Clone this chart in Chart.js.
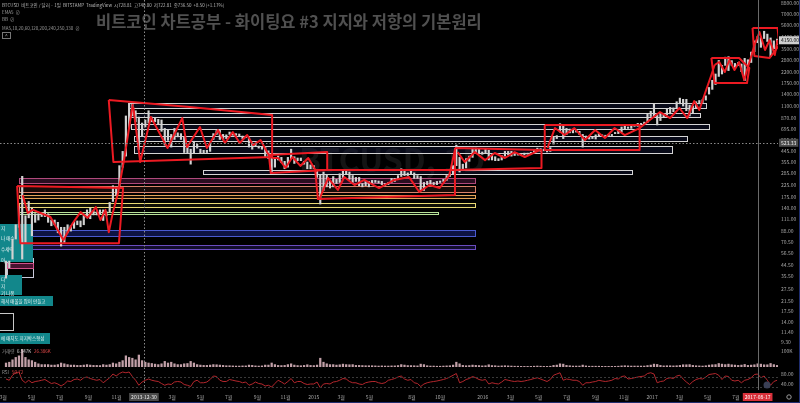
<!DOCTYPE html>
<html>
<head>
<meta charset="utf-8">
<title>비트코인 차트공부 #3</title>
<script src="https://cdn.jsdelivr.net/npm/chart.js@4.4.1/dist/chart.umd.min.js"></script>
<style>
  html, body { margin: 0; padding: 0; background: #000; }
  canvas { display: block; }
</style>
</head>
<body>
<canvas id="chart" width="800" height="403"></canvas>
<script>
// ---------- data (weekly, BITSTAMP BTCUSD) ----------
const weekStart = '2013-03-04';

const weeklyHigh = [
  48, 48, 75, 100, 145, 266, 120, 160, 140, 125, 125, 128, 135, 125, 110, 110, 105, 95, 95, 100, 98, 107,
  108, 108, 124, 135, 140, 133, 130, 135, 135, 130, 157, 220, 215, 330, 440, 900, 1163, 1150, 1000, 880, 780, 830,
  1000, 880, 870, 840, 830, 700, 680, 620, 700, 640, 630, 590, 490, 460, 540, 510, 460, 450, 450, 530, 630, 670,
  680, 620, 615, 650, 640, 630, 625, 600, 600, 580, 520, 520, 490, 485, 480, 445, 390, 380, 400, 390, 360, 390,
  460, 395, 385, 385, 360, 355, 335, 330,
  300, 275, 290, 275, 245, 265, 250, 280, 300, 300, 290, 270, 260, 260, 230, 240, 240, 245, 245, 242, 240, 230,
  235, 255, 255, 270, 310, 295, 285, 298, 285, 270, 265, 235, 240, 245, 235, 240, 242, 250, 270, 285, 330, 500,
  390, 340, 380, 400, 470, 470, 460, 435,
  460, 450, 420, 395, 380, 405, 440, 440, 440, 420, 420, 420, 425, 425, 432, 450, 470, 465, 460, 455, 475, 585,
  605, 770, 760, 700, 690, 680, 680, 660, 620, 600, 590, 585, 615, 630, 615, 610, 620, 620, 645, 660, 720, 740,
  720, 750, 750, 775, 775, 795, 930, 990,
  1140, 910, 930, 925, 1030, 1070, 1060, 1200, 1290, 1260, 1260, 1120, 1100, 1200, 1230, 1250, 1350, 1600, 1850,
  2100, 2760, 2500, 2950, 2980, 2750, 2600, 2650, 2570, 2880, 2800, 3270, 4100, 4480, 4380, 4980, 4700, 4350,
  4100, 4250
];

const weeklyLow = [
  34, 42, 50, 75, 95, 50, 70, 115, 80, 105, 110, 118, 118, 105, 98, 100, 85, 65, 70, 85, 88, 93,
  100, 96, 100, 115, 113, 122, 122, 124, 109, 120, 130, 160, 180, 210, 320, 400, 700, 900, 800, 455, 600, 720,
  780, 800, 800, 770, 660, 500, 550, 480, 560, 590, 560, 430, 420, 340, 420, 470, 420, 420, 430, 440, 560, 620,
  560, 560, 570, 620, 610, 610, 600, 570, 580, 480, 460, 490, 470, 460, 390, 380, 290, 320, 370, 350, 310, 320,
  380, 345, 365, 365, 340, 310, 310, 310,
  260, 152, 200, 215, 210, 215, 230, 235, 260, 280, 250, 235, 240, 220, 215, 220, 215, 230, 235, 232, 225, 220,
  225, 235, 240, 250, 265, 270, 270, 280, 255, 255, 200, 200, 225, 225, 225, 225, 235, 240, 245, 265, 280, 330,
  290, 310, 315, 360, 390, 430, 420, 415,
  420, 370, 370, 365, 365, 370, 400, 410, 400, 405, 408, 410, 410, 415, 420, 425, 440, 440, 445, 435, 440, 510,
  570, 650, 570, 620, 640, 640, 650, 620, 480, 580, 565, 570, 565, 600, 600, 590, 600, 605, 630, 630, 650, 690,
  700, 700, 730, 730, 760, 770, 790, 890,
  880, 750, 820, 880, 920, 940, 980, 1050, 1150, 1100, 1000, 900, 960, 1060, 1150, 1180, 1240, 1400, 1540,
  1700, 2000, 2100, 2500, 2250, 2500, 2400, 2500, 2200, 1840, 2500, 2650, 3300, 3950, 3600, 4300, 4050, 2980,
  3500, 3800
];

// average daily volume of each week, thousand BTC
const weeklyVolume = [
  25, 30, 45, 60, 70, 110, 60, 45, 40, 30, 20, 15, 15, 15, 12, 12, 15, 25, 20, 15, 12, 12,
  10, 10, 12, 15, 12, 10, 10, 9, 15, 12, 15, 25, 20, 30, 40, 70, 60, 55, 45, 75, 40, 30,
  25, 22, 18, 15, 20, 35, 25, 30, 20, 15, 15, 20, 22, 35, 25, 15, 12, 10, 10, 12, 15, 14,
  12, 10, 8, 8, 7, 6, 6, 7, 7, 12, 10, 7, 6, 7, 12, 12, 25, 15, 10, 9, 10, 15,
  20, 12, 9, 8, 10, 14, 10, 9,
  12, 55, 30, 20, 15, 15, 12, 14, 18, 15, 14, 15, 10, 10, 9, 8, 8, 8, 7, 6, 7, 6,
  6, 7, 7, 9, 15, 12, 9, 9, 8, 7, 18, 15, 8, 6, 6, 5, 5, 6, 7, 8, 12, 30,
  20, 10, 8, 9, 12, 10, 9, 7,
  8, 14, 9, 8, 6, 7, 8, 7, 6, 5, 5, 4, 4, 4, 4, 5, 6, 5, 4, 4, 5, 10,
  12, 20, 18, 10, 8, 6, 6, 6, 12, 7, 5, 5, 5, 5, 4, 4, 4, 4, 4, 5, 7, 8,
  7, 6, 6, 6, 6, 6, 9, 12,
  18, 16, 10, 7, 8, 8, 7, 8, 10, 14, 14, 15, 10, 8, 7, 6, 8, 12, 14,
  15, 22, 18, 15, 18, 14, 12, 10, 12, 16, 10, 12, 14, 20, 18, 14, 14, 22,
  15, 10
];

const weeklyRsi = [
  60, 55, 75, 85, 88, 55, 45, 55, 45, 50, 52, 55, 58, 50, 42, 45, 40, 32, 40, 52, 50, 58,
  60, 55, 65, 68, 62, 58, 55, 58, 45, 55, 65, 80, 72, 82, 88, 85, 88, 70, 55, 35, 48, 55,
  60, 55, 52, 50, 42, 35, 40, 38, 48, 50, 48, 38, 35, 30, 50, 55, 45, 45, 48, 58, 72, 70,
  55, 50, 50, 58, 55, 52, 50, 45, 48, 35, 40, 48, 42, 40, 32, 35, 28, 42, 55, 48, 40, 50,
  62, 45, 50, 50, 42, 38, 40, 40,
  48, 25, 40, 42, 40, 48, 50, 55, 62, 60, 50, 45, 45, 40, 38, 45, 48, 50, 50, 45, 42, 45,
  55, 58, 62, 68, 72, 60, 55, 58, 45, 42, 30, 40, 45, 48, 50, 52, 55, 58, 62, 68, 75, 82,
  45, 50, 58, 62, 70, 65, 58, 55,
  58, 40, 45, 42, 40, 48, 58, 55, 52, 50, 52, 50, 52, 55, 58, 62, 65, 60, 55, 50, 58, 75,
  80, 85, 55, 60, 58, 55, 55, 50, 35, 45, 45, 48, 50, 55, 52, 50, 52, 55, 62, 60, 70, 72,
  60, 62, 65, 68, 70, 72, 82, 85,
  80, 45, 50, 52, 62, 65, 62, 72, 75, 60, 48, 38, 50, 58, 62, 60, 68, 78, 80,
  82, 75, 58, 72, 70, 55, 52, 55, 45, 55, 58, 65, 78, 80, 65, 72, 55, 35,
  50, 55
];

const lastClose = 4150;
const crossDate = '2013-12-30';
const crossPrice = 523.33;
const markDate = '2017-08-17';

// axis ticks
const priceTicks = [9.3, 11.4, 14, 17.5, 21.5, 27.5, 35.5, 44.5, 56.5, 70.5, 88, 111, 140, 175, 225, 285, 355,
  445, 555, 695, 870, 1100, 1400, 1750, 2200, 2800, 3500, 4400, 5600, 7000, 8800];
const timeTicks = ['2013-03', '2013-05', '2013-07', '2013-09', '2013-11', '2014-01', '2014-03', '2014-05',
  '2014-07', '2014-09', '2014-11', '2015-01', '2015-03', '2015-05', '2015-08', '2015-10', '2016-01', '2016-03',
  '2016-05', '2016-07', '2016-09', '2016-11', '2017-01', '2017-03', '2017-05', '2017-07'];

// support / resistance zones: [from, to, low, high]
const zones = [
  ['2013-11-27', '2017-04-27', 1057, 1169],
  ['2013-12-03', '2017-04-14', 881, 955],
  ['2013-12-03', '2017-05-03', 691, 765],
  ['2013-12-09', '2017-03-18', 542, 600],
  ['2013-12-09', '2017-02-14', 426, 490],
  ['2014-05-06', '2016-11-19', 279, 302],
  ['2013-04-03', '2015-12-15', 232, 257],
  ['2013-04-03', '2015-12-15', 194, 219],
  ['2013-04-03', '2015-12-15', 171.5, 182],
  ['2013-04-03', '2015-12-15', 143, 155],
  ['2013-04-03', '2015-09-27', 124, 129],
  ['2013-04-03', '2015-12-15', 80, 90],
  ['2013-04-03', '2015-12-15', 61, 66],
  ['2013-03-09', '2013-05-04', 34.8, 51],
  ['2013-03-09', '2013-05-04', 41.7, 46],
  ['2013-02-20', '2013-03-22', 11.9, 16.8]
];
const zoneStyles = [
  ['#d4d4d4', 'rgba(24,30,70,0.35)'], ['#d4d4d4', 'rgba(24,30,70,0.35)'], ['#d4d4d4', 'rgba(24,30,70,0.35)'],
  ['#d4d4d4', 'rgba(24,30,70,0.35)'], ['#d4d4d4', 'rgba(24,30,70,0.35)'], ['#d4d4d4', 'rgba(24,30,70,0.35)'],
  ['#b04a7c', 'rgba(90,30,70,0.45)'], ['#d9826a', 'rgba(80,40,30,0.3)'], ['#e3a457', 'rgba(70,45,20,0.3)'],
  ['#e8d874', 'rgba(60,55,20,0.25)'], ['#b9e39a', 'rgba(30,60,30,0.2)'], ['#4a5ad0', 'rgba(25,35,120,0.55)'],
  ['#6a4cc0', 'rgba(40,30,100,0.45)'], ['#c8c8d8', 'rgba(0,0,0,0)'], ['#d0508a', 'rgba(120,30,80,0.6)'],
  ['#c8c8c8', 'rgba(0,0,0,0)']
];

// hand drawn red annotations: [date, price]
const redBoxes = [
  [['2013-03-31', 219], ['2013-11-15', 210], ['2013-11-06', 69], ['2013-04-07', 69], ['2013-03-31', 219]],
  [['2013-10-15', 1241], ['2014-04-08', 1078], ['2014-10-03', 917], ['2014-10-03', 393], ['2013-10-25', 355], ['2013-10-15', 1241]],
  [['2014-09-26', 409], ['2015-01-30', 434], ['2015-01-30', 302], ['2014-09-30', 284], ['2014-09-26', 409]],
  [['2015-01-04', 302], ['2015-11-02', 302], ['2015-11-02', 182], ['2015-01-10', 168], ['2015-01-04', 302]],
  [['2015-11-02', 471], ['2016-05-07', 452], ['2016-05-07', 315], ['2015-11-02', 302], ['2015-11-02', 471]],
  [['2016-05-14', 749], ['2016-12-05', 749], ['2016-12-05', 452], ['2016-05-14', 452], ['2016-05-14', 749]],
  [['2017-05-09', 2905], ['2017-07-08', 2905], ['2017-07-30', 2370], ['2017-07-25', 1750], ['2017-05-16', 1750], ['2017-05-09', 2905]],
  [['2017-08-06', 5317], ['2017-09-29', 5317], ['2017-10-03', 3770], ['2017-09-12', 2905], ['2017-08-10', 3019], ['2017-08-06', 5317]]
];
const redWaves = [
  [['2013-04-12', 182], ['2013-04-23', 127], ['2013-05-04', 135], ['2013-06-11', 117], ['2013-07-09', 73],
   ['2013-07-29', 103], ['2013-08-15', 129], ['2013-08-30', 115], ['2013-09-17', 143], ['2013-09-27', 110],
   ['2013-10-08', 135], ['2013-10-15', 86], ['2013-10-24', 129], ['2013-11-04', 190], ['2013-11-17', 369],
   ['2013-12-06', 1146]],
  [['2013-12-07', 1078], ['2013-12-22', 355], ['2014-01-14', 881], ['2014-02-19', 471], ['2014-03-23', 863],
   ['2014-04-02', 480], ['2014-04-30', 720], ['2014-05-15', 471], ['2014-06-08', 677], ['2014-06-23', 521],
   ['2014-07-10', 650], ['2014-07-25', 521], ['2014-08-10', 612], ['2014-08-23', 500], ['2014-09-08', 553],
   ['2014-09-23', 426], ['2014-10-03', 385]],
  [['2014-10-03', 385], ['2014-10-16', 385], ['2014-11-01', 315], ['2014-11-16', 393], ['2014-12-03', 328],
   ['2014-12-20', 385], ['2015-01-07', 290]],
  [['2015-01-14', 171], ['2015-02-01', 257], ['2015-02-22', 202], ['2015-03-08', 262], ['2015-03-30', 223],
   ['2015-04-20', 247], ['2015-05-22', 210], ['2015-06-24', 247], ['2015-07-26', 262], ['2015-08-17', 194],
   ['2015-09-08', 223], ['2015-09-30', 210], ['2015-10-21', 273], ['2015-11-02', 452]],
  [['2015-11-08', 434], ['2015-11-23', 355], ['2015-12-15', 434], ['2016-01-06', 369], ['2016-01-27', 426],
   ['2016-02-18', 385], ['2016-03-10', 434], ['2016-04-01', 393], ['2016-05-03', 452]],
  [['2016-05-20', 471], ['2016-06-05', 705], ['2016-06-26', 612], ['2016-07-17', 705], ['2016-08-09', 553],
   ['2016-08-31', 677], ['2016-09-21', 576], ['2016-10-12', 705], ['2016-11-03', 612], ['2016-12-05', 705],
   ['2016-12-27', 829], ['2017-01-18', 974], ['2017-02-09', 863], ['2017-03-01', 1057], ['2017-03-18', 863],
   ['2017-04-02', 1216], ['2017-04-13', 1014], ['2017-04-24', 1373], ['2017-05-09', 2057], ['2017-05-16', 2517]],
  [['2017-05-16', 2517], ['2017-05-26', 2675], ['2017-06-07', 2186], ['2017-06-17', 2786], ['2017-06-28', 2276],
   ['2017-07-08', 2675], ['2017-07-19', 1860], ['2017-07-25', 2276], ['2017-08-04', 3085], ['2017-08-10', 3770],
   ['2017-08-21', 4903], ['2017-09-02', 3410], ['2017-09-12', 4170], ['2017-09-23', 3085], ['2017-09-29', 4170]]
];

// ---------- helpers ----------
const T0 = Date.UTC(2013, 2, 1);
function day(s) {
  const [y, m, d] = s.split('-').map(Number);
  return (Date.UTC(y, m - 1, d || 1) - T0) / 86400000;
}
const weekX = weeklyHigh.map((_, i) => day(weekStart) + 7 * i + 3);
const tickLabel = {};
timeTicks.forEach(t => {
  const [y, m] = t.split('-');
  tickLabel[day(t)] = m === '01' ? y : (+m) + '월';
});

const FONT = '"Noto Sans CJK KR", "Noto Sans", sans-serif';
const RED = '#ec1a22';

function txt(ctx, s, x, y, color, size, align, weight) {
  ctx.font = (weight || 'normal') + ' ' + size + 'px ' + FONT;
  ctx.fillStyle = color;
  ctx.textAlign = align || 'left';
  ctx.textBaseline = 'middle';
  ctx.fillText(s, x, y);
}
function tag(ctx, s, cx, cy, bg, fg, align) {
  ctx.font = '5px ' + FONT;
  const w = ctx.measureText(s).width + 4;
  const x = align === 'left' ? cx : cx - w / 2;
  ctx.fillStyle = bg;
  ctx.fillRect(x, cy - 4, w, 8);
  txt(ctx, s, x + 2, cy, fg, 5);
}

// ---------- plugin for drawings, labels and chrome ----------
const drawings = {
  id: 'drawings',
  beforeDraw(chart) {
    const {ctx, width, height} = chart;
    ctx.save();
    ctx.fillStyle = '#000';
    ctx.fillRect(0, 0, width, height);
    ctx.restore();
  },
  beforeDatasetsDraw(chart) {
    const {ctx, chartArea, scales: {x, y}} = chart;
    ctx.save();
    ctx.beginPath();
    ctx.rect(chartArea.left, y.top, chartArea.right - chartArea.left, y.bottom - y.top);
    ctx.clip();
    // watermarks
    txt(ctx, 'BTCUSD, 1D', 392, 160, 'rgba(255,255,255,0.08)', 32, 'center', 'bold');
    txt(ctx, '비트코인 차트공부 - 화이팅요 #3 지지와 저항의 기본원리', 96, 22, '#505050', 16.5, 'left', 'bold');
    // zones
    zones.forEach(([from, to, lo, hi], i) => {
      const [stroke, fill] = zoneStyles[i];
      const x0 = Math.round(x.getPixelForValue(day(from)));
      const x1 = Math.round(x.getPixelForValue(day(to)));
      const y0 = Math.round(y.getPixelForValue(hi));
      const y1 = Math.round(y.getPixelForValue(lo));
      ctx.fillStyle = fill;
      ctx.fillRect(x0, y0, x1 - x0, y1 - y0);
      ctx.strokeStyle = stroke;
      ctx.lineWidth = 1;
      ctx.strokeRect(x0 + 0.5, y0 + 0.5, x1 - x0, y1 - y0);
    });
    // teal text notes on the left edge
    const notes = [
      [0, 224, 33, 38, ['지', '나 매수', '수세력', '아']],
      [0, 275, 22, 20, ['다', '지', '기 나옴']],
      [0, 296, 53, 10, ['해서 매물을 많이 만들고']],
      [0, 333, 50, 11, ['에 매치도 지지박스형성']]
    ];
    notes.forEach(([nx, ny, nw, nh, lines]) => {
      ctx.fillStyle = '#12878b';
      ctx.fillRect(nx, ny, nw, nh);
      lines.forEach((l, k) => txt(ctx, l, nx + 1, ny + 4 + k * (nh > 12 ? (nh - 6) / Math.max(1, lines.length - 1) : 0) + (nh <= 12 ? 1 : 0), '#e8f4f4', 4.5));
    });
    ctx.restore();
  },
  afterDatasetsDraw(chart) {
    const {ctx, chartArea, scales: {x, y, yRsi}} = chart;
    ctx.save();
    // RSI band lines
    ctx.strokeStyle = '#3a3a3a';
    ctx.setLineDash([2, 2]);
    [30, 70].forEach(v => {
      const py = Math.round(yRsi.getPixelForValue(v)) + 0.5;
      ctx.beginPath(); ctx.moveTo(chartArea.left, py); ctx.lineTo(chartArea.right, py); ctx.stroke();
    });
    // crosshair
    ctx.strokeStyle = '#8a8a8a';
    ctx.setLineDash([1.5, 2]);
    const cx = Math.round(x.getPixelForValue(day(crossDate))) + 0.5;
    const cy = Math.round(y.getPixelForValue(crossPrice)) + 0.5;
    ctx.beginPath(); ctx.moveTo(cx, chartArea.top); ctx.lineTo(cx, chartArea.bottom); ctx.stroke();
    ctx.beginPath(); ctx.moveTo(chartArea.left, cy); ctx.lineTo(chartArea.right, cy); ctx.stroke();
    // vertical marker line
    ctx.setLineDash([]);
    ctx.strokeStyle = '#6a6a6a';
    const mx = Math.round(x.getPixelForValue(day(markDate))) + 0.5;
    ctx.beginPath(); ctx.moveTo(mx, chartArea.top); ctx.lineTo(mx, chartArea.bottom); ctx.stroke();
    ctx.restore();
  },
  afterDraw(chart) {
    const {ctx, chartArea, scales: {x, y, yVol, yRsi}} = chart;
    ctx.save();
    // header
    txt(ctx, 'BTCUSD  비트코인 / 달러 · 1일  BITSTAMP  TradingView  시728.81  고740.00  저722.81  종736.50  +8.50 (+1.17%)', 2, 5, '#b8b8b8', 4.5);
    txt(ctx, 'EMA5  ⊘', 2, 12, '#9a9a9a', 4.5);
    txt(ctx, 'BB  ⊘', 2, 19.5, '#9a9a9a', 4.5);
    txt(ctx, 'MA5,10,20,60,120,200,240,250,330  ⊘', 2, 28, '#9a9a9a', 4.5);
    ctx.strokeStyle = '#777'; ctx.lineWidth = 1;
    ctx.strokeRect(2.5, 32.5, 8, 6);
    txt(ctx, '^', 6.5, 36, '#aaa', 5, 'center');
    // pane captions
    txt(ctx, '거래량', 2, yVol.top + 3, '#9a9a9a', 4.5);
    txt(ctx, '6.547K', 17, yVol.top + 3, '#d8d8d8', 4.5);
    txt(ctx, '26.386K', 34, yVol.top + 3, '#e04848', 4.5);
    txt(ctx, 'RSI', 2, yRsi.top + 5, '#9a9a9a', 4.5);
    txt(ctx, '50.72', 12, yRsi.top + 5, '#e04848', 4.5);
    // axis highlight tags
    tag(ctx, lastClose.toFixed(2), chartArea.right + 1, y.getPixelForValue(lastClose), '#cfcfcf', '#111', 'left');
    tag(ctx, crossPrice.toFixed(2), chartArea.right + 1, y.getPixelForValue(crossPrice), '#4a4a4a', '#eee', 'left');
    tag(ctx, crossDate, x.getPixelForValue(day(crossDate)), 397, '#4a4a4a', '#eee');
    tag(ctx, markDate, x.getPixelForValue(day(markDate)), 397, '#d8303a', '#fff');
    // window border and small icons
    ctx.fillStyle = '#1f2d6e';
    ctx.fillRect(0, 402, 800, 1);
    ctx.fillRect(799, 0, 1, 403);
    ctx.strokeStyle = '#9a9a9a';
    ctx.beginPath(); ctx.arc(789, 397, 2.2, 0, Math.PI * 2); ctx.stroke();
    ctx.fillStyle = '#3a3f55';
    ctx.beginPath(); ctx.arc(767, 385, 3.5, 0, Math.PI * 2); ctx.fill();
    ctx.restore();
  }
};

// ---------- chart ----------
const yAxisFit = s => { s.width = 22; s.paddingTop = 0; s.paddingBottom = 0; };
const tickFont = {size: 5, family: FONT};

new Chart(document.getElementById('chart'), {
  type: 'bar',
  data: {
    datasets: [
      ...redBoxes.concat(redWaves).map(shape => ({
        type: 'line',
        data: shape.map(([d, p]) => ({x: day(d), y: p})),
        yAxisID: 'y',
        borderColor: RED,
        borderWidth: 2,
        borderJoinStyle: 'round',
        pointRadius: 0,
        fill: false,
        tension: 0,
        order: 0
      })),
      {
        type: 'bar',
        data: weekX.map((d, i) => ({x: d, y: [weeklyLow[i], weeklyHigh[i]]})),
        yAxisID: 'y',
        backgroundColor: '#d2d2d2',
        barThickness: 1.5,
        grouped: false,
        order: 5
      },
      {
        type: 'bar',
        data: weekX.map((d, i) => ({x: d, y: weeklyVolume[i]})),
        yAxisID: 'yVol',
        backgroundColor: 'rgba(228,188,198,0.85)',
        barThickness: 1.6,
        grouped: false,
        order: 4
      },
      {
        type: 'line',
        data: weekX.map((d, i) => ({x: d, y: weeklyRsi[i]})),
        yAxisID: 'yRsi',
        borderColor: '#b3262c',
        borderWidth: 1,
        pointRadius: 0,
        fill: false,
        tension: 0,
        order: 3
      }
    ]
  },
  options: {
    responsive: false,
    animation: false,
    devicePixelRatio: 1,
    events: [],
    layout: {padding: 0, autoPadding: false},
    plugins: {legend: {display: false}, tooltip: {enabled: false}},
    scales: {
      x: {
        type: 'linear',
        offset: false,
        min: day('2013-02-22'),
        max: day('2017-09-30'),
        grid: {display: false, drawTicks: false},
        border: {display: false},
        afterBuildTicks: s => { s.ticks = timeTicks.map(t => ({value: day(t)})); },
        afterFit: s => { s.height = 13; s.paddingLeft = 0; s.paddingRight = 0; },
        ticks: {
          autoSkip: false, maxRotation: 0, padding: 4, color: '#a8a8a8', font: tickFont,
          callback: v => tickLabel[v] || ''
        }
      },
      y: {
        type: 'logarithmic',
        position: 'right',
        stack: 'panes',
        stackWeight: 348,
        min: 8.3,
        max: 9360,
        grid: {display: false, drawTicks: false},
        border: {display: false},
        afterBuildTicks: s => { s.ticks = priceTicks.map(v => ({value: v})); },
        afterFit: yAxisFit,
        ticks: {autoSkip: false, padding: 3, color: '#a8a8a8', font: tickFont, callback: v => v.toFixed(2)}
      },
      yVol: {
        type: 'linear',
        position: 'right',
        stack: 'panes',
        stackWeight: 19,
        min: 0,
        max: 119,
        grid: {display: false, drawTicks: false},
        border: {display: false},
        afterBuildTicks: s => { s.ticks = [{value: 100}]; },
        afterFit: yAxisFit,
        ticks: {autoSkip: false, padding: 3, color: '#a8a8a8', font: tickFont, callback: v => v + 'K'}
      },
      yRsi: {
        type: 'linear',
        position: 'right',
        stack: 'panes',
        stackWeight: 23,
        min: 16,
        max: 108,
        grid: {display: false, drawTicks: false},
        border: {display: false},
        afterBuildTicks: s => { s.ticks = [{value: 40}, {value: 80}]; },
        afterFit: yAxisFit,
        ticks: {autoSkip: false, padding: 3, color: '#a8a8a8', font: tickFont, callback: v => v.toFixed(2)}
      }
    }
  },
  plugins: [drawings]
});
</script>
</body>
</html>
